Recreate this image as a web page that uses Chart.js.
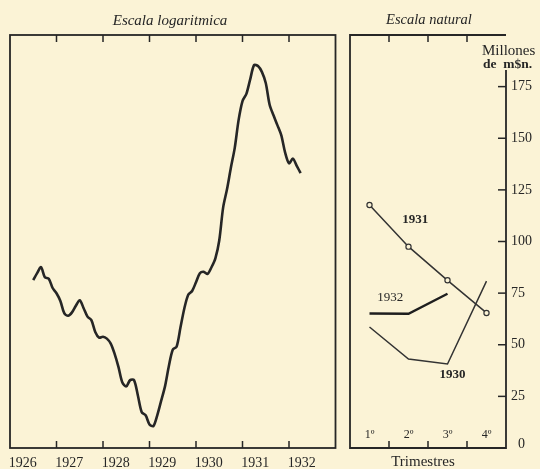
<!DOCTYPE html>
<html>
<head>
<meta charset="utf-8">
<script src="https://cdn.jsdelivr.net/npm/chart.js@4"></script>
<style>
  body { margin: 0; background: #fbf3d6; }
  #wrap { position: relative; width: 540px; height: 469px; overflow: hidden; }
  canvas { position: absolute; top: 0; }
  #logChart { left: 0; }
  #natChart { left: 340px; }
</style>
</head>
<body>
<div id="wrap">
  <canvas id="logChart" width="340" height="469"></canvas>
  <canvas id="natChart" width="200" height="469"></canvas>
</div>
<script>
// serie mensual, julio 1926 - abril 1932 (escala logaritmica)
const years = ["1926", "1927", "1928", "1929", "1930", "1931", "1932"];
const firstMonth = 6; // meses contados desde enero 1926
const monthly = [
  25.5, 26.5, 27.4, 25.9, 25.7, 24.4,
  23.7, 22.7, 21.2, 20.9, 21.3, 22.1, 22.8, 21.8, 20.8, 20.4, 19.1, 18.5,
  18.6, 18.4, 17.9, 16.9, 15.7, 14.4, 14.1, 14.6, 14.6, 13.4, 12.2, 12.0,
  11.4, 11.3, 12.0, 13.0, 14.1, 15.8, 17.3, 17.6, 19.6, 21.8, 23.5, 24.0,
  25.2, 26.5, 26.7, 26.4, 27.4, 28.8, 31.8, 38.2, 42.3, 47.7, 53.3, 62.3,
  69.2, 72.0, 78.2, 84.6, 84.1, 81.4, 76.5, 67.8, 63.9, 60.5, 57.2, 51.9,
  48.9, 50.2, 48.2, 46.3
];

// por trimestres (escala natural), millones de m$n.
const quarters = ["1º", "2º", "3º", "4º"];
const q1930 = [58.6, 43.1, 40.7, 80.8];
const q1931 = [117.7, 97.5, 81.2, 65.4];
const q1932 = [65.1, 65.0, 74.7];
const natTicks = [0, 25, 50, 75, 100, 125, 150, 175];

const ink = "#262626";
const serif = "'Liberation Serif', 'DejaVu Serif', serif";
const paper = "#fbf3d6";

const logFrame = {
  id: "logFrame",
  afterDraw(chart) {
    const { ctx, chartArea: a } = chart;
    const x = chart.scales.x;
    ctx.save();
    ctx.strokeStyle = ink;
    ctx.lineWidth = 1.8;
    ctx.strokeRect(a.left, a.top, a.right - a.left, a.bottom - a.top);
    ctx.lineWidth = 1.5;
    for (let i = 1; i < years.length; i++) {
      const px = x.getPixelForValue(i * 12);
      ctx.beginPath();
      ctx.moveTo(px, a.top);
      ctx.lineTo(px, a.top + 7);
      ctx.moveTo(px, a.bottom);
      ctx.lineTo(px, a.bottom - 7);
      ctx.stroke();
    }
    ctx.fillStyle = ink;
    ctx.textAlign = "center";
    ctx.textBaseline = "middle";
    ctx.font = "14px " + serif;
    years.forEach((yr, i) => {
      ctx.fillText(yr, x.getPixelForValue(i * 12 + 3.3), a.bottom + 15);
    });
    ctx.font = "italic 15px " + serif;
    ctx.fillText("Escala logaritmica", 170, 21);
    ctx.restore();
  }
};

new Chart(document.getElementById("logChart"), {
  type: "line",
  data: {
    datasets: [{
      data: monthly.map((v, i) => ({ x: firstMonth + i, y: v })),
      borderColor: ink,
      borderWidth: 2.6,
      pointRadius: 0,
      tension: 0.3
    }]
  },
  options: {
    responsive: false,
    animation: false,
    layout: { padding: { left: 10, right: 4.5, top: 35, bottom: 21 } },
    scales: {
      x: { type: "linear", min: 0, max: 84, display: false },
      y: { type: "logarithmic", min: 10, max: 100, display: false }
    },
    plugins: { legend: { display: false }, tooltip: { enabled: false } }
  },
  plugins: [logFrame]
});

const natFrame = {
  id: "natFrame",
  afterDraw(chart) {
    const { ctx, chartArea: a } = chart;
    const x = chart.scales.x, y = chart.scales.y;
    ctx.save();
    ctx.strokeStyle = ink;
    ctx.lineWidth = 1.8;
    ctx.beginPath();
    ctx.moveTo(a.right, 70);
    ctx.lineTo(a.right, a.bottom);
    ctx.lineTo(a.left, a.bottom);
    ctx.lineTo(a.left, a.top);
    ctx.lineTo(a.right, a.top);
    ctx.stroke();
    ctx.lineWidth = 1.5;
    for (let i = 0; i < quarters.length - 1; i++) {
      const px = x.getPixelForValue(i + 0.5);
      ctx.beginPath();
      ctx.moveTo(px, a.top);
      ctx.lineTo(px, a.top + 7);
      ctx.moveTo(px, a.bottom);
      ctx.lineTo(px, a.bottom - 7);
      ctx.stroke();
    }
    ctx.fillStyle = ink;
    ctx.textBaseline = "middle";
    ctx.textAlign = "left";
    ctx.font = "14px " + serif;
    natTicks.forEach(v => {
      const py = y.getPixelForValue(v);
      if (v === 0) {
        ctx.fillText("0", a.right + 12, py - 4);
        return;
      }
      ctx.beginPath();
      ctx.moveTo(a.right - 8, py);
      ctx.lineTo(a.right, py);
      ctx.stroke();
      ctx.fillText(String(v), a.right + 5, py);
    });
    ctx.font = "15px " + serif;
    ctx.fillText("Millones", 142, 51);
    ctx.font = "bold 13.5px " + serif;
    ctx.fillText("de  m$n.", 143, 65);

    ctx.textAlign = "center";
    ctx.font = "12px " + serif;
    quarters.forEach((q, i) => {
      ctx.fillText(q, x.getPixelForValue(i), a.bottom - 13);
    });
    ctx.font = "15px " + serif;
    ctx.fillText("Trimestres", (a.left + a.right) / 2 - 5, a.bottom + 14);
    ctx.font = "italic 14.5px " + serif;
    ctx.fillText("Escala natural", 89, 20);

    // nombres de las series
    ctx.font = "bold 13px " + serif;
    ctx.fillText("1931", x.getPixelForValue(1.17), y.getPixelForValue(110.7));
    ctx.fillText("1930", x.getPixelForValue(2.13), y.getPixelForValue(35.4));
    ctx.font = "13px " + serif;
    ctx.fillText("1932", x.getPixelForValue(0.53), y.getPixelForValue(72.8));
    ctx.restore();
  }
};

new Chart(document.getElementById("natChart"), {
  type: "line",
  data: {
    labels: quarters,
    datasets: [
      { data: q1930, borderColor: "#333", borderWidth: 1.5, pointRadius: 0, tension: 0 },
      {
        data: q1931, borderColor: "#333", borderWidth: 1.5, tension: 0,
        pointRadius: 2.6, pointBorderWidth: 1.2,
        pointBorderColor: "#333", pointBackgroundColor: paper
      },
      { data: q1932, borderColor: "#1e1e1e", borderWidth: 2.4, pointRadius: 0, tension: 0 }
    ]
  },
  options: {
    responsive: false,
    animation: false,
    layout: { padding: { left: 10, right: 34, top: 35, bottom: 21 } },
    scales: {
      x: { type: "category", offset: true, display: false },
      y: { type: "linear", min: 0, max: 200, display: false }
    },
    plugins: { legend: { display: false }, tooltip: { enabled: false } }
  },
  plugins: [natFrame]
});
</script>
</body>
</html>
